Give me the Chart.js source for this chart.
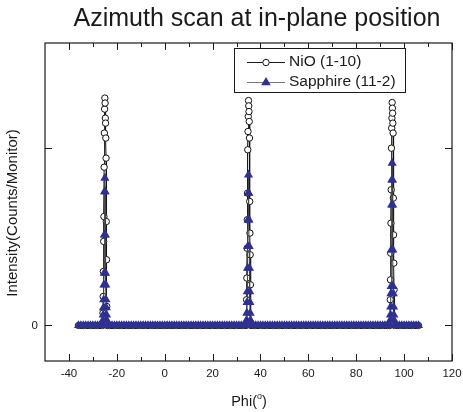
<!DOCTYPE html>
<html>
<head>
<meta charset="utf-8">
<script src="https://cdn.jsdelivr.net/npm/chart.js@4.4.0/dist/chart.umd.min.js"></script>
<style>
  body { margin: 0; background: #fff; }
  canvas { display: block; }
</style>
</head>
<body>
<canvas id="chart" width="463" height="412"></canvas>
<script>
// azimuth scan data (phi in degrees)
const phi = [
  -36, -35, -34, -33, -32, -31, -30, -29, -28, -27, -26,
  -25.8, -25.7, -25.6, -25.5, -25.4, -25.3, -25.2, -25.1, -25, -24.9, -24.8, -24.7, -24.6, -24.5, -24.4, -24.3, -24.2,
  -24, -23, -22, -21, -20, -19, -18, -17, -16, -15, -14, -13, -12, -11, -10, -9, -8, -7, -6, -5,
  -4, -3, -2, -1, 0, 1, 2, 3, 4, 5, 6, 7, 8, 9, 10, 11, 12, 13, 14, 15,
  16, 17, 18, 19, 20, 21, 22, 23, 24, 25, 26, 27, 28, 29, 30, 31, 32, 33, 34,
  34.2, 34.3, 34.4, 34.5, 34.6, 34.7, 34.8, 34.9, 35, 35.1, 35.2, 35.3, 35.4, 35.5, 35.6, 35.7, 35.8,
  36, 37, 38, 39, 40, 41, 42, 43, 44, 45, 46, 47, 48, 49, 50, 51, 52, 53, 54, 55,
  56, 57, 58, 59, 60, 61, 62, 63, 64, 65, 66, 67, 68, 69, 70, 71, 72, 73, 74, 75,
  76, 77, 78, 79, 80, 81, 82, 83, 84, 85, 86, 87, 88, 89, 90, 91, 92, 93, 94,
  94.2, 94.3, 94.4, 94.5, 94.6, 94.7, 94.8, 94.9, 95, 95.1, 95.2, 95.3, 95.4, 95.5, 95.6, 95.7, 95.8,
  96, 97, 98, 99, 100, 101, 102, 103, 104, 105, 106
];

const nio = [
  0, 0, 0, 0, 0, 0, 0, 0, 0, 0, 0,
  0.07, 0.163, 0.304, 0.473, 0.613, 0.891, 1.083, 1.218, 1.28, 1.252, 1.167, 1.139, 1.055, 0.942, 0.585, 0.37, 0.107,
  0, 0, 0, 0, 0, 0, 0, 0, 0, 0, 0, 0, 0, 0, 0, 0, 0, 0, 0, 0,
  0, 0, 0, 0, 0, 0, 0, 0, 0, 0, 0, 0, 0, 0, 0, 0, 0, 0, 0, 0,
  0, 0, 0, 0, 0, 0, 0, 0, 0, 0, 0, 0, 0, 0, 0, 0, 0, 0, 0,
  0.145, 0.267, 0.435, 0.595, 0.745, 0.989, 1.092, 1.176, 1.266, 1.236, 1.204, 1.148, 1.055, 0.698, 0.52, 0.398, 0.229,
  0, 0, 0, 0, 0, 0, 0, 0, 0, 0, 0, 0, 0, 0, 0, 0, 0, 0, 0, 0,
  0, 0, 0, 0, 0, 0, 0, 0, 0, 0, 0, 0, 0, 0, 0, 0, 0, 0, 0, 0,
  0, 0, 0, 0, 0, 0, 0, 0, 0, 0, 0, 0, 0, 0, 0, 0, 0, 0, 0,
  0.145, 0.257, 0.407, 0.576, 0.764, 0.998, 1.111, 1.167, 1.255, 1.223, 1.195, 1.139, 1.083, 0.717, 0.51, 0.351, 0.201,
  0, 0, 0, 0, 0, 0, 0, 0, 0, 0, 0
];

const sapphire = [
  0, 0, 0, 0, 0, 0, 0, 0, 0, 0, 0,
  0.03, 0.06, 0.1, 0.145, 0.229, 0.295, 0.51, 0.754, 0.83, 0.754, 0.51, 0.295, 0.229, 0.145, 0.1, 0.06, 0.03,
  0, 0, 0, 0, 0, 0, 0, 0, 0, 0, 0, 0, 0, 0, 0, 0, 0, 0, 0, 0,
  0, 0, 0, 0, 0, 0, 0, 0, 0, 0, 0, 0, 0, 0, 0, 0, 0, 0, 0, 0,
  0, 0, 0, 0, 0, 0, 0, 0, 0, 0, 0, 0, 0, 0, 0, 0, 0, 0, 0,
  0.03, 0.07, 0.13, 0.191, 0.323, 0.445, 0.595, 0.745, 0.848, 0.745, 0.595, 0.445, 0.323, 0.191, 0.13, 0.07, 0.03,
  0, 0, 0, 0, 0, 0, 0, 0, 0, 0, 0, 0, 0, 0, 0, 0, 0, 0, 0, 0,
  0, 0, 0, 0, 0, 0, 0, 0, 0, 0, 0, 0, 0, 0, 0, 0, 0, 0, 0, 0,
  0, 0, 0, 0, 0, 0, 0, 0, 0, 0, 0, 0, 0, 0, 0, 0, 0, 0, 0,
  0.03, 0.06, 0.105, 0.18, 0.22, 0.426, 0.679, 0.82, 0.914, 0.82, 0.679, 0.426, 0.22, 0.18, 0.105, 0.06, 0.03,
  0, 0, 0, 0, 0, 0, 0, 0, 0, 0, 0
];

const seriesNames = ["NiO (1-10)", "Sapphire (11-2)"];
const xTicks = [-40, -20, 0, 20, 40, 60, 80, 100, 120];
const xMinorTicks = [-30, -10, 10, 30, 50, 70, 90, 110];
const yTicks = [0, 1];
const yTickLabels = ["0", ""];

const FONT = "Arial, 'Liberation Sans', sans-serif";
const INK = "#1a1a1a";
const NAVY = "rgb(46,49,146)";

// frame, inward ticks, titles and legend box
const decorations = {
  id: "decorations",
  afterDraw(chart) {
    const ctx = chart.ctx;
    const a = chart.chartArea;
    const xs = chart.scales.x;
    const ys = chart.scales.y;
    ctx.save();
    ctx.strokeStyle = INK;
    ctx.lineWidth = 1.2;
    ctx.strokeRect(a.left, a.top, a.right - a.left, a.bottom - a.top);

    ctx.lineWidth = 1;
    ctx.beginPath();
    xTicks.forEach((v) => {
      const px = Math.round(xs.getPixelForValue(v)) + 0.5;
      ctx.moveTo(px, a.bottom); ctx.lineTo(px, a.bottom - 7);
      ctx.moveTo(px, a.top); ctx.lineTo(px, a.top + 7);
    });
    xMinorTicks.forEach((v) => {
      const px = Math.round(xs.getPixelForValue(v)) + 0.5;
      ctx.moveTo(px, a.bottom); ctx.lineTo(px, a.bottom - 4);
      ctx.moveTo(px, a.top); ctx.lineTo(px, a.top + 4);
    });
    yTicks.forEach((v) => {
      const py = Math.round(ys.getPixelForValue(v)) + 0.5;
      ctx.moveTo(a.left, py); ctx.lineTo(a.left + 7, py);
      ctx.moveTo(a.right, py); ctx.lineTo(a.right - 7, py);
    });
    ctx.stroke();

    // title
    ctx.fillStyle = INK;
    ctx.textAlign = "center";
    ctx.textBaseline = "middle";
    ctx.font = "25px " + FONT;
    ctx.fillText("Azimuth scan at in-plane position", 257, 19);

    // x axis title with superscript o
    ctx.font = "14.5px " + FONT;
    const w1 = ctx.measureText("Phi(").width;
    const w3 = ctx.measureText(")").width;
    ctx.font = "9px " + FONT;
    const w2 = ctx.measureText("o").width;
    let x0 = 249 - (w1 + w2 + w3) / 2;
    ctx.textAlign = "left";
    ctx.font = "14.5px " + FONT;
    ctx.fillText("Phi(", x0, 402);
    ctx.font = "9px " + FONT;
    ctx.fillText("o", x0 + w1, 397);
    ctx.font = "14.5px " + FONT;
    ctx.fillText(")", x0 + w1 + w2, 402);

    // y axis title
    ctx.save();
    ctx.translate(13, 213);
    ctx.rotate(-Math.PI / 2);
    ctx.textAlign = "center";
    ctx.font = "15px " + FONT;
    ctx.fillText("Intensity(Counts/Monitor)", 0, 0);
    ctx.restore();

    // legend
    ctx.fillStyle = "#fff";
    ctx.fillRect(234, 48, 171, 44);
    ctx.strokeStyle = INK;
    ctx.lineWidth = 1;
    ctx.strokeRect(234.5, 48.5, 171, 44);
    ctx.beginPath();
    ctx.moveTo(247, 62.5); ctx.lineTo(285, 62.5);
    ctx.stroke();
    ctx.beginPath();
    ctx.arc(266, 62.5, 3.2, 0, Math.PI * 2);
    ctx.fillStyle = "#fff";
    ctx.fill();
    ctx.stroke();
    ctx.strokeStyle = "#777";
    ctx.beginPath();
    ctx.moveTo(247, 82.5); ctx.lineTo(285, 82.5);
    ctx.stroke();
    ctx.fillStyle = NAVY;
    ctx.beginPath();
    ctx.moveTo(266, 77);
    ctx.lineTo(270.8, 85.2);
    ctx.lineTo(261.2, 85.2);
    ctx.closePath();
    ctx.fill();
    ctx.fillStyle = INK;
    ctx.textAlign = "left";
    ctx.font = "15.5px " + FONT;
    ctx.fillText(seriesNames[0], 289, 62);
    ctx.fillText(seriesNames[1], 289, 82);
    ctx.restore();
  },
};

const ctx = document.getElementById("chart");
new Chart(ctx, {
  type: "line",
  data: {
    datasets: [
      {
        label: seriesNames[0],
        data: phi.map((x, i) => ({ x: x, y: nio[i] })),
        borderColor: "#111",
        borderWidth: 1,
        pointStyle: "circle",
        pointRadius: 3.2,
        pointBorderWidth: 1,
        pointBorderColor: "#111",
        pointBackgroundColor: "#fff",
        tension: 0,
        order: 1,
      },
      {
        label: seriesNames[1],
        data: phi.map((x, i) => ({ x: x, y: sapphire[i] })),
        borderColor: "#444",
        borderWidth: 1,
        pointStyle: "triangle",
        pointRadius: 5.3,
        pointBorderWidth: 0,
        pointBorderColor: NAVY,
        pointBackgroundColor: NAVY,
        tension: 0,
        order: 0,
      },
    ],
  },
  options: {
    responsive: false,
    animation: false,
    layout: { padding: { top: 43, right: 11, left: 0, bottom: 0 } },
    plugins: {
      legend: { display: false },
      tooltip: { enabled: false },
    },
    scales: {
      x: {
        type: "linear",
        min: -50,
        max: 120,
        afterBuildTicks: (scale) => {
          scale.ticks = xTicks.map((v) => ({ value: v }));
        },
        afterFit: (scale) => {
          scale.height = 51;
          scale.paddingLeft = 0;
          scale.paddingRight = 0;
        },
        grid: { display: false, drawTicks: false },
        border: { display: false },
        ticks: {
          autoSkip: false,
          maxRotation: 0,
          padding: 6,
          color: INK,
          font: { family: FONT, size: 11.5 },
        },
      },
      y: {
        type: "linear",
        min: -0.2,
        max: 1.59,
        afterBuildTicks: (scale) => {
          scale.ticks = yTicks.map((v) => ({ value: v }));
        },
        afterFit: (scale) => {
          scale.width = 45;
          scale.paddingTop = 0;
          scale.paddingBottom = 0;
        },
        grid: { display: false, drawTicks: false },
        border: { display: false },
        ticks: {
          autoSkip: false,
          padding: 7,
          color: INK,
          font: { family: FONT, size: 11.5 },
          callback: (v) => yTickLabels[yTicks.indexOf(v)],
        },
      },
    },
  },
  plugins: [decorations],
});
</script>
</body>
</html>
